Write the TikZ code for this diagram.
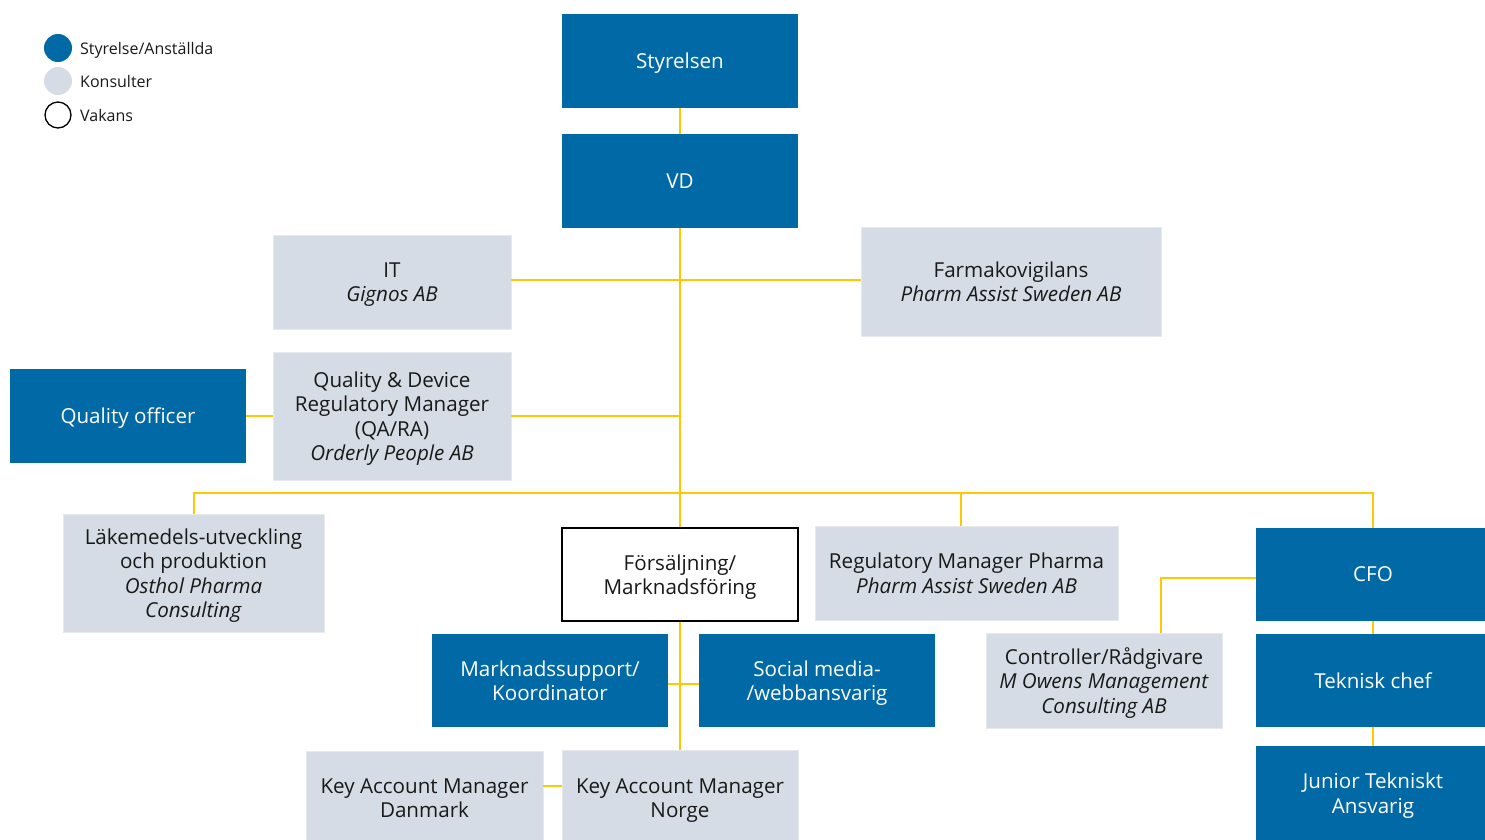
\documentclass[tikz,border=0pt]{standalone}
\usepackage{fontspec}
\setmainfont{Open Sans}
\definecolor{orgblue}{HTML}{0069A6}
\definecolor{consgrey}{HTML}{D6DCE5}
\definecolor{lineyel}{HTML}{FFC800}
\begin{document}
\begin{tikzpicture}[x=1pt,y=-1pt,
  basebox/.style={rectangle, inner sep=0pt, align=center, text depth=0pt, font=\fontsize{20.6}{24.5}\selectfont},
  emp/.style={basebox, fill=orgblue, text=white},
  cons/.style={basebox, fill=consgrey, draw=consgrey!60!white, line width=0.6pt, text=black!90},
  vac/.style={basebox, fill=white, draw=black, line width=1.4pt, text=black!90},
  conn/.style={draw=lineyel, line width=2pt},
  legtext/.style={anchor=west, inner sep=0pt, text depth=0pt, font=\fontsize{16}{19}\selectfont, text=black!90}]
\useasboundingbox (0,0) rectangle (1485,839);
\clip (0,0) rectangle (1485,839);

% legend
\node[circle, fill=orgblue, minimum size=28pt, inner sep=0pt] (lg1) at (58,48) {};
\node[circle, fill=consgrey, minimum size=28pt, inner sep=0pt] (lg2) at (58,81) {};
\node[circle, fill=white, draw=black, line width=1.3pt, minimum size=26pt, inner sep=0pt] (lg3) at (58,115) {};
\node[legtext] (lt1) at (80,48) {Styrelse/Anställda};
\node[legtext] (lt2) at (80,81) {Konsulter};
\node[legtext] (lt3) at (80,115) {Vakans};

% boxes
\node[emp, minimum width=236pt, minimum height=94pt] (sty) at (680,61) {Styrelsen};
\node[emp, minimum width=236pt, minimum height=94pt] (vd) at (680,181) {VD};
\node[cons, minimum width=238pt, minimum height=94pt] (it) at (392,282) {IT\\\textit{Gignos AB}};
\node[cons, minimum width=300pt, minimum height=109pt] (farm) at (1011,281.5) {Farmakovigilans\\\textit{Pharm Assist Sweden AB}};
\node[emp, minimum width=236pt, minimum height=94pt] (qo) at (128,416) {Quality officer};
\node[cons, minimum width=238pt, minimum height=128pt] (qa) at (392,416) {Quality \& Device\\Regulatory Manager\\(QA/RA)\\\textit{Orderly People AB}};
\node[cons, minimum width=261pt, minimum height=118pt] (lak) at (193.5,573) {Läkemedels-utveckling\\och produktion\\\textit{Osthol Pharma}\\\textit{Consulting}};
\node[vac, minimum width=236pt, minimum height=93pt] (fors) at (680,574.5) {Försäljning/\\Marknadsföring};
\node[cons, minimum width=303pt, minimum height=94pt] (reg) at (966.5,573) {Regulatory Manager Pharma\\\textit{Pharm Assist Sweden AB}};
\node[emp, minimum width=234pt, minimum height=93pt] (cfo) at (1373,574.5) {CFO};
\node[cons, minimum width=236pt, minimum height=95pt] (ctrl) at (1104,680.5) {Controller/Rådgivare\\\textit{M Owens Management}\\\textit{Consulting AB}};
\node[emp, minimum width=234pt, minimum height=93pt] (tek) at (1373,680.5) {Teknisk chef};
\node[emp, minimum width=234pt, minimum height=94pt] (jun) at (1373,793) {Junior Tekniskt\\Ansvarig};
\node[emp, minimum width=236pt, minimum height=93pt] (mark) at (550,680.5) {Marknadssupport/\\Koordinator};
\node[emp, minimum width=236pt, minimum height=93pt] (soc) at (817,680.5) {Social media-\\/webbansvarig};
\node[cons, minimum width=237pt, minimum height=94pt] (kamd) at (424.5,798) {Key Account Manager\\Danmark};
\node[cons, minimum width=236pt, minimum height=96pt] (kamn) at (680,798) {Key Account Manager\\Norge};

% connectors
\coordinate (bus) at (680,493);
\coordinate (cbend) at (1161,578);
\draw[conn] (sty.south) -- (vd.north);
\draw[conn] (vd.south) -- (fors.north);
\draw[conn] (it.east |- 0,280) -- (farm.west |- 0,280);
\draw[conn] (qo.east) -- (qa.west);
\draw[conn] (qa.east) -- (qa.east -| vd.south);
\draw[conn] (lak.north) |- (bus) -| (cfo.north);
\draw[conn] (reg.north -| 961,0) -- (bus -| 961,0);
\draw[conn] (cfo.west |- cbend) -- (cbend) -- (cbend |- ctrl.north);
\draw[conn] (cfo.south) -- (tek.north);
\draw[conn] (tek.south) -- (jun.north);
\draw[conn] (fors.south) -- (kamn.north);
\draw[conn] (mark.east |- 0,684) -- (soc.west |- 0,684);
\draw[conn] (kamd.east |- 0,786) -- (kamn.west |- 0,786);
\end{tikzpicture}
\end{document}
